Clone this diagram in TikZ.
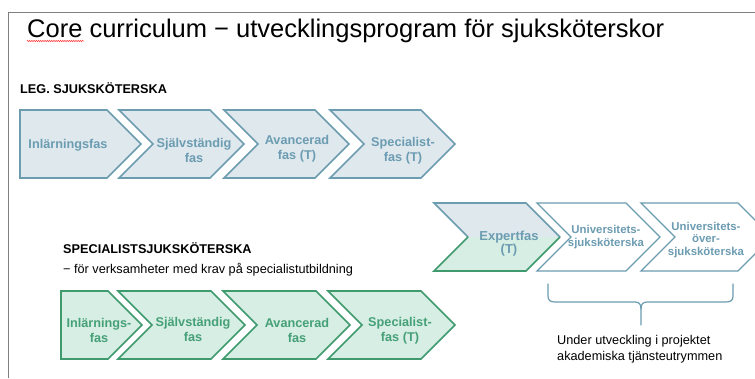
\documentclass[tikz,border=0pt]{standalone}
\usepackage{fontspec}
\setmainfont{Liberation Sans}
\usetikzlibrary{decorations.pathmorphing}

\definecolor{framegray}{HTML}{7F7F7F}
\definecolor{bluefill}{HTML}{DEE8ED}
\definecolor{bluedraw}{HTML}{6C9CB0}
\definecolor{bluetext}{HTML}{6C9CB2}
\definecolor{greenfill}{HTML}{D6EEE4}
\definecolor{greendraw}{HTML}{3F9A6E}
\definecolor{greentext}{HTML}{46A077}

% home plate: flat left side, pointed right side (#2 left, #3 top, #4 width)
\newcommand\homeplate[4]{%
  \draw[#1] (#2,#3) -- ++(#4-34,0) -- ++(34,34) -- ++(-34,34) -- ++(-#4+34,0) -- cycle;}
% chevron: notched left side, pointed right side
\newcommand\chevshape[4]{%
  \draw[#1] (#2,#3) -- ++(#4-34,0) -- ++(34,34) -- ++(-34,34) -- ++(-#4+34,0) -- ++(34,-34) -- cycle;}

\tikzset{
  bluestep/.style={fill=bluefill, draw=bluedraw, line width=1.6pt, line join=miter},
  greenstep/.style={fill=greenfill, draw=greendraw, line width=1.6pt, line join=miter},
  openstep/.style={fill=white, draw=bluedraw, line width=1.3pt, line join=miter},
  bluelabel/.style={text=bluetext, font=\bfseries\fontsize{12.7}{15}\selectfont, align=center, inner sep=0pt},
  greenlabel/.style={text=greentext, font=\bfseries\fontsize{12.7}{15}\selectfont, align=center, inner sep=0pt},
  unilabel/.style={text=bluetext, font=\bfseries\fontsize{11.4}{12.8}\selectfont, align=center, inner sep=0pt},
  heading/.style={anchor=west, inner sep=0pt, font=\bfseries\fontsize{12.7}{15}\selectfont},
  plain/.style={anchor=west, inner sep=0pt, font=\fontsize{12.7}{15.5}\selectfont, align=left},
}

\begin{document}
\begin{tikzpicture}[x=1pt, y=-1pt]
\useasboundingbox (0,0) rectangle (755,378);
\fill[white] (0,0) rectangle (755,378);

% slide frame
\draw[framegray, line width=1.5pt] (8.5,378) -- (8.5,12.5) -- (755,12.5);

% title with spell-check underline
\node[anchor=base west, inner sep=0pt, font=\fontsize{25.5}{30}\selectfont] (title) at (27,37.5)
  {Core curriculum − utvecklingsprogram för sjuksköterskor};
\draw[red!80, line width=0.5pt, decorate, decoration={zigzag, amplitude=0.7pt, segment length=2.2pt}]
  (27,41) -- (84,41);

% registered nurse track
\node[heading] (leg) at (20,88) {LEG. SJUKSKÖTERSKA};
\homeplate{bluestep}{20}{110}{121}
\chevshape{bluestep}{119}{110}{125}
\chevshape{bluestep}{224}{110}{125}
\chevshape{bluestep}{330}{110}{125}
\node[bluelabel] (b1) at (68,145) {Inlärningsfas};
\node[bluelabel] (b2) at (194,150) {Självständig\\fas};
\node[bluelabel] (b3) at (297,149) {Avancerad\\fas (T)};
\node[bluelabel] (b4) at (403,151) {Specialist-\\fas (T)};

% specialist nurse track
\node[heading] (spec) at (63,248) {SPECIALISTSJUKSKÖTERSKA};
\node[plain] (specsub) at (63,270) {− för verksamheter med krav på specialistutbildning};
\homeplate{greenstep}{61}{291}{81}
\chevshape{greenstep}{118}{291}{127}
\chevshape{greenstep}{223}{291}{127}
\chevshape{greenstep}{328}{291}{127}
\node[greenlabel] (g1) at (99,330) {Inlärnings-\\fas};
\node[greenlabel] (g2) at (193,329) {Självständig\\fas};
\node[greenlabel] (g3) at (297,330) {Avancerad\\fas};
\node[greenlabel] (g4) at (400,331) {Specialist-\\fas (T)};

% shared expert phase: upper half blue, lower half green
\fill[bluefill] (468,237) -- (434,203) -- (526,203) -- (560,237) -- cycle;
\fill[greenfill] (468,237) -- (434,271) -- (526,271) -- (560,237) -- cycle;
\draw[bluedraw, line width=1.6pt, line join=miter] (468,237) -- (434,203) -- (526,203) -- (560,237);
\draw[greendraw, line width=1.6pt, line join=miter] (468,237) -- (434,271) -- (526,271) -- (560,237);
\node[bluelabel, font=\bfseries\fontsize{13}{13}\selectfont] (expert) at (509,244) {Expertfas\\(T)};

% academic steps under development
\begin{scope}
\clip (0,0) rectangle (755,378);
\chevshape{openstep}{537}{203}{123}
\chevshape{openstep}{641}{203}{131}
\end{scope}
\node[unilabel] (u1) at (606,237) {Universitets-\\sjuksköterska};
\node[unilabel] (u2) at (706,240) {Universitets-\\över-\\sjuksköterska};

% brace and note
\draw[bluedraw, line width=1.2pt, line cap=round]
  (548,284) -- (548,296) .. controls (548,300) and (550,302) .. (555,302)
  -- (635,302) .. controls (639,302) and (641,304) .. (641,309) -- (641,325);
\draw[bluedraw, line width=1.2pt, line cap=round]
  (733,284) -- (733,296) .. controls (733,300) and (731,302) .. (726,302)
  -- (647,302) .. controls (643,302) and (641,304) .. (641,309);
\node[plain, font=\fontsize{12.7}{15.5}\selectfont] (note) at (557,349)
  {Under utveckling i projektet\\akademiska tjänsteutrymmen};
\end{tikzpicture}
\end{document}
